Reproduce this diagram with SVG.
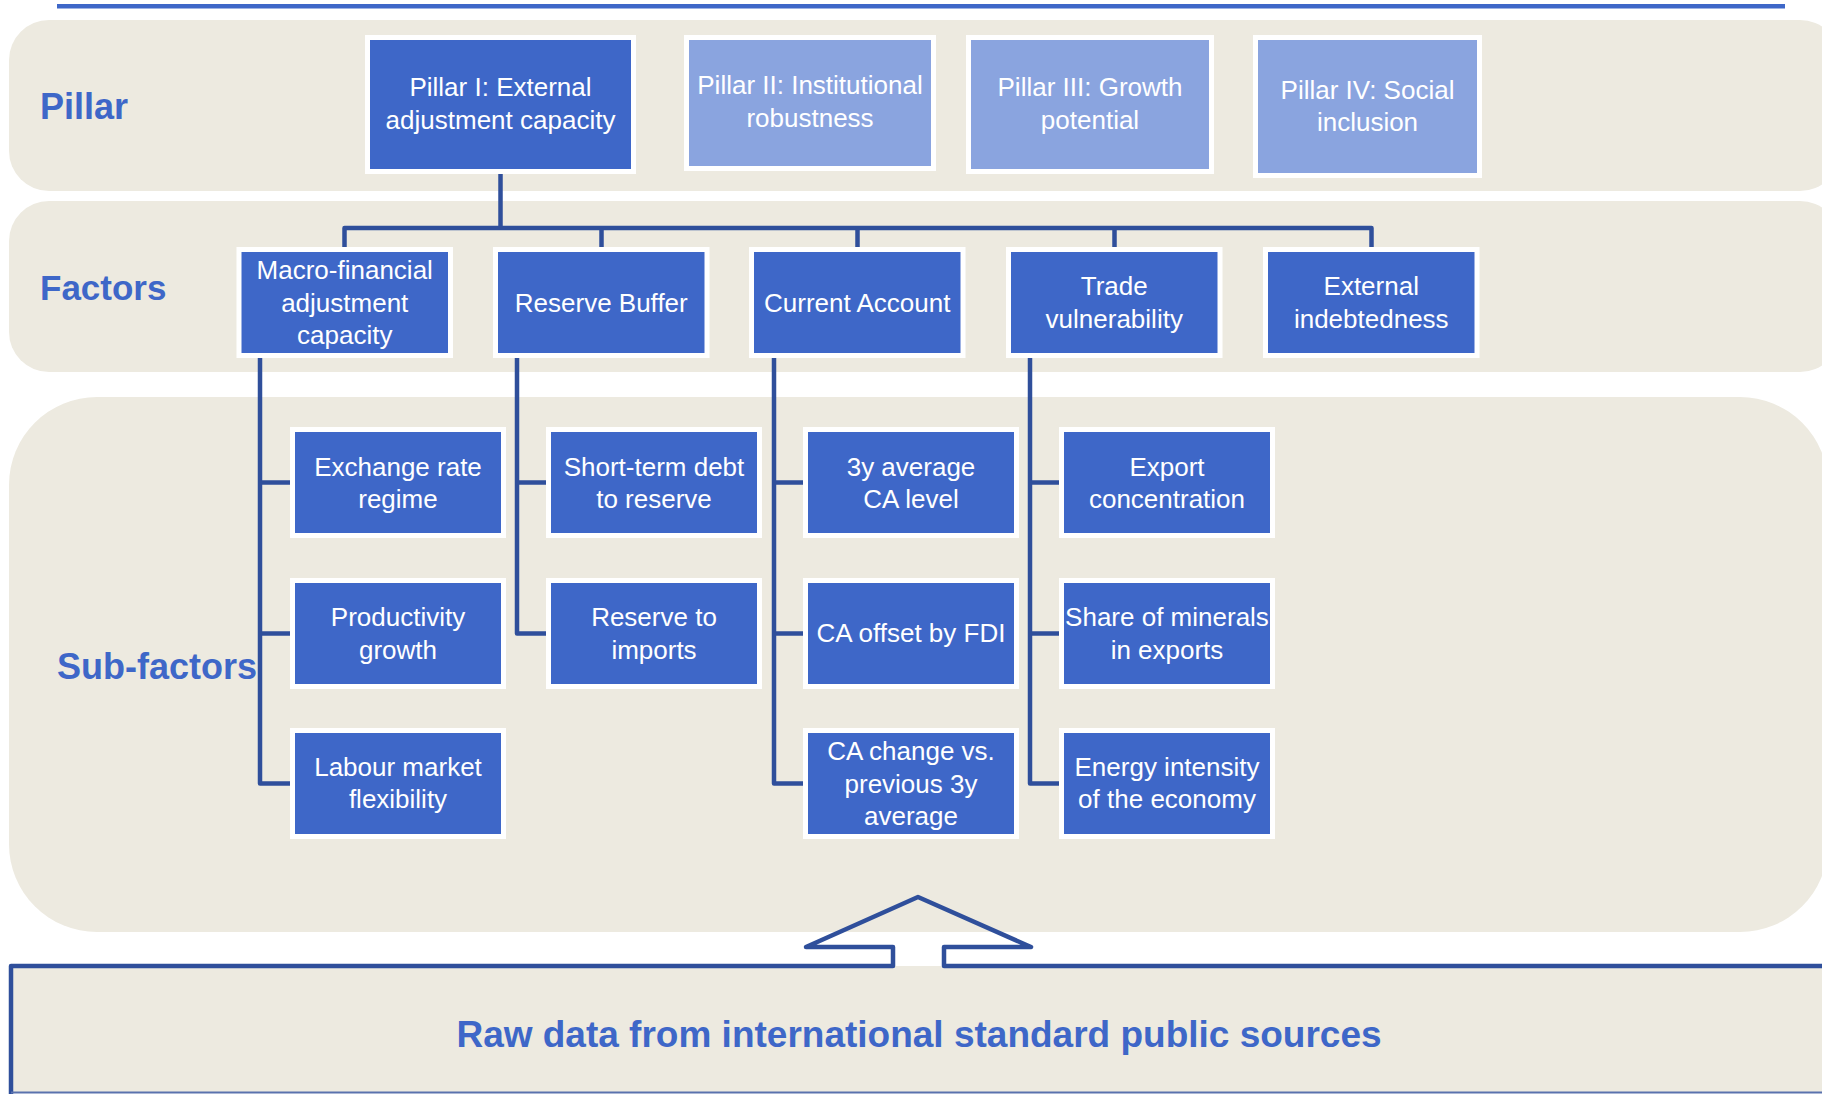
<svg xmlns="http://www.w3.org/2000/svg" width="1822" height="1094" viewBox="0 0 1822 1094">
  <style>
    .band { fill: #EDEAE0; }
    .box { fill: #3E67C8; stroke: #FFFFFF; stroke-width: 5; }
    .box.faded { fill: #8AA4DF; }
    .t { font-family: "Liberation Sans", Arial, sans-serif; font-size: 26px; fill: #FFFFFF; text-anchor: middle; }
    .lbl { font-family: "Liberation Sans", Arial, sans-serif; font-size: 36px; font-weight: bold; fill: #3E67C8; }
    .conn { fill: none; stroke: #2F4F9B; stroke-width: 4.5; stroke-linejoin: round; }
  </style>

  <!-- top rule -->
  <rect x="57" y="4" width="1728" height="4.5" fill="#3E67C8"/>

  <!-- level bands -->
  <rect class="band" x="9" y="20" width="1831" height="171" rx="40" ry="40"/>
  <rect class="band" x="9" y="201" width="1831" height="171" rx="40" ry="40"/>
  <rect class="band" x="9" y="397" width="1819" height="535" rx="88" ry="88"/>

  <!-- raw data base with upward arrow -->
  <rect class="band" x="11" y="966" width="1830" height="127"/>
  <path class="conn" d="M 11 1098 V 966 H 893 V 947 H 806 L 918 897 L 1031 947 H 944 V 966 H 1830"/>
  <line x1="11" y1="1092.5" x2="1822" y2="1092.5" stroke="#5A72AE" stroke-width="2"/>

  <!-- level labels -->
  <text class="lbl" x="40" y="119">Pillar</text>
  <text class="lbl" x="40" y="300" style="font-size:35px">Factors</text>
  <text class="lbl" x="57" y="679">Sub-factors</text>
  <text class="lbl" x="919" y="1047" text-anchor="middle" style="font-size:37px">Raw data from international standard public sources</text>

  <!-- connectors -->
  <g id="connectors">
    <path class="conn" d="M 500.5 172 V 228 M 344.5 249 V 228 H 1371.5 V 249 M 601.5 228 V 249 M 857.5 228 V 249 M 1114.5 228 V 249"/>
    <path class="conn" d="M 260 356 V 783.5 H 291 M 260 482.5 H 291 M 260 633.5 H 291"/>
    <path class="conn" d="M 517 356 V 633.5 H 547 M 517 482.5 H 547"/>
    <path class="conn" d="M 774 356 V 783.5 H 804 M 774 482.5 H 804 M 774 633.5 H 804"/>
    <path class="conn" d="M 1030 356 V 783.5 H 1060 M 1030 482.5 H 1060 M 1030 633.5 H 1060"/>
  </g>

  <!-- pillars -->
  <g id="pillar1">
    <rect class="box" x="367.5" y="37.5" width="266" height="134"/>
    <text class="t" x="500.5" y="96">Pillar I: External<tspan x="500.5" dy="32.5">adjustment capacity</tspan></text>
  </g>
  <g id="pillar2">
    <rect class="box faded" x="686.5" y="37.5" width="247" height="131"/>
    <text class="t" x="810" y="94">Pillar II: Institutional<tspan x="810" dy="32.5">robustness</tspan></text>
  </g>
  <g id="pillar3">
    <rect class="box faded" x="968.5" y="37.5" width="243" height="134"/>
    <text class="t" x="1090" y="96">Pillar III: Growth<tspan x="1090" dy="32.5">potential</tspan></text>
  </g>
  <g id="pillar4">
    <rect class="box faded" x="1255.5" y="37.5" width="224" height="138"/>
    <text class="t" x="1367.5" y="98.5">Pillar IV: Social<tspan x="1367.5" dy="32.5">inclusion</tspan></text>
  </g>

  <!-- factors -->
  <g id="f-macro">
    <rect class="box" x="239" y="249.5" width="211.5" height="106"/>
    <text class="t" x="344.75" y="279">Macro-financial<tspan x="344.75" dy="32.5">adjustment</tspan><tspan x="344.75" dy="32.5">capacity</tspan></text>
  </g>
  <g id="f-reserve">
    <rect class="box" x="495.5" y="249.5" width="211.5" height="106"/>
    <text class="t" x="601.25" y="311.5">Reserve Buffer</text>
  </g>
  <g id="f-ca">
    <rect class="box" x="751.5" y="249.5" width="211.5" height="106"/>
    <text class="t" x="857.25" y="311.5">Current Account</text>
  </g>
  <g id="f-trade">
    <rect class="box" x="1008.5" y="249.5" width="211.5" height="106"/>
    <text class="t" x="1114.25" y="295">Trade<tspan x="1114.25" dy="32.5">vulnerability</tspan></text>
  </g>
  <g id="f-ext">
    <rect class="box" x="1265.5" y="249.5" width="211.5" height="106"/>
    <text class="t" x="1371.25" y="295">External<tspan x="1371.25" dy="32.5">indebtedness</tspan></text>
  </g>

  <!-- sub-factors: macro-financial -->
  <g id="s-exchange">
    <rect class="box" x="292.5" y="429.5" width="211" height="106"/>
    <text class="t" x="398" y="475.5">Exchange rate<tspan x="398" dy="32.5">regime</tspan></text>
  </g>
  <g id="s-productivity">
    <rect class="box" x="292.5" y="580.5" width="211" height="106"/>
    <text class="t" x="398" y="626">Productivity<tspan x="398" dy="32.5">growth</tspan></text>
  </g>
  <g id="s-labour">
    <rect class="box" x="292.5" y="730.5" width="211" height="106"/>
    <text class="t" x="398" y="775.5">Labour market<tspan x="398" dy="32.5">flexibility</tspan></text>
  </g>

  <!-- sub-factors: reserve buffer -->
  <g id="s-shortterm">
    <rect class="box" x="548.5" y="429.5" width="211" height="106"/>
    <text class="t" x="654" y="475.5">Short-term debt<tspan x="654" dy="32.5">to reserve</tspan></text>
  </g>
  <g id="s-imports">
    <rect class="box" x="548.5" y="580.5" width="211" height="106"/>
    <text class="t" x="654" y="626">Reserve to<tspan x="654" dy="32.5">imports</tspan></text>
  </g>

  <!-- sub-factors: current account -->
  <g id="s-ca-level">
    <rect class="box" x="805.5" y="429.5" width="211" height="106"/>
    <text class="t" x="911" y="475.5">3y average<tspan x="911" dy="32.5">CA level</tspan></text>
  </g>
  <g id="s-ca-fdi">
    <rect class="box" x="805.5" y="580.5" width="211" height="106"/>
    <text class="t" x="911" y="642">CA offset by FDI</text>
  </g>
  <g id="s-ca-change">
    <rect class="box" x="805.5" y="730.5" width="211" height="106"/>
    <text class="t" x="911" y="760">CA change vs.<tspan x="911" dy="32.5">previous 3y</tspan><tspan x="911" dy="32.5">average</tspan></text>
  </g>

  <!-- sub-factors: trade vulnerability -->
  <g id="s-export">
    <rect class="box" x="1061.5" y="429.5" width="211" height="106"/>
    <text class="t" x="1167" y="475.5">Export<tspan x="1167" dy="32.5">concentration</tspan></text>
  </g>
  <g id="s-minerals">
    <rect class="box" x="1061.5" y="580.5" width="211" height="106"/>
    <text class="t" x="1167" y="626">Share of minerals<tspan x="1167" dy="32.5">in exports</tspan></text>
  </g>
  <g id="s-energy">
    <rect class="box" x="1061.5" y="730.5" width="211" height="106"/>
    <text class="t" x="1167" y="775.5">Energy intensity<tspan x="1167" dy="32.5">of the economy</tspan></text>
  </g>
</svg>
